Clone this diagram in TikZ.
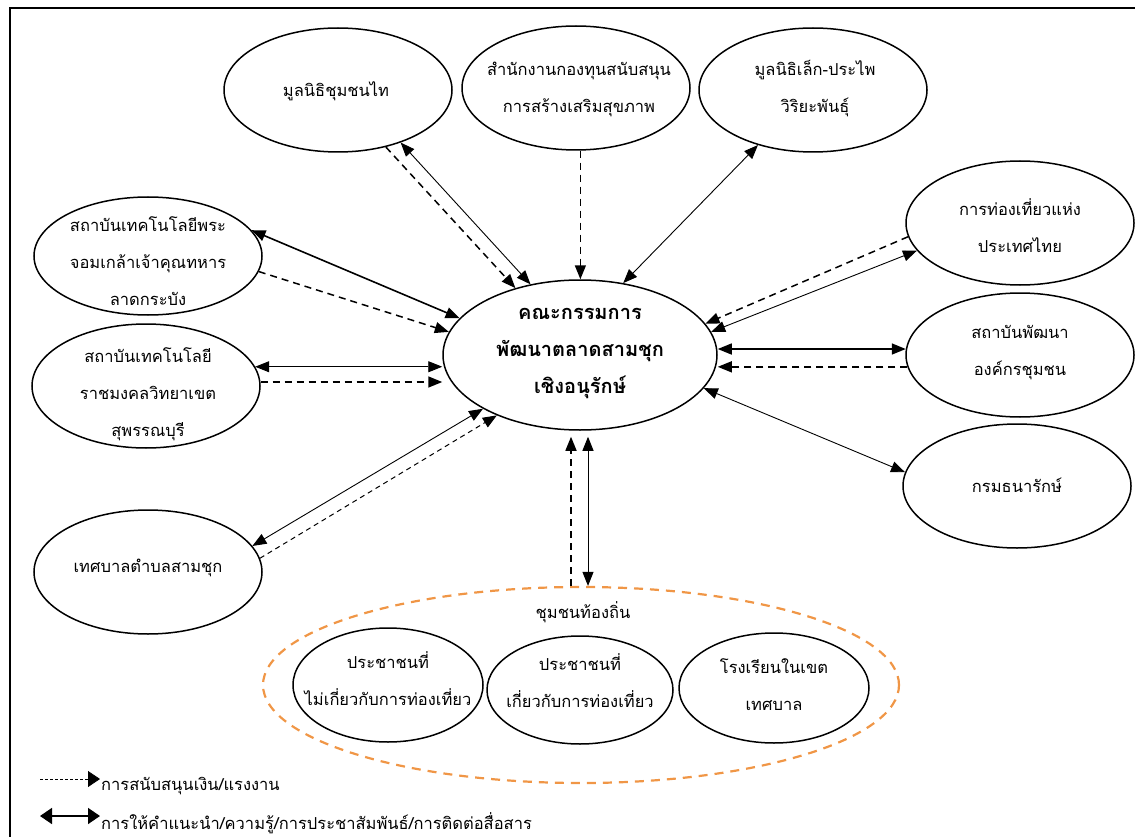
\documentclass[tikz,border=0pt]{standalone}
\usepackage{fontspec}
\newfontfamily\thaifont[Script=Thai]{Loma}
\usetikzlibrary{arrows.meta,shapes.geometric}
\definecolor{commorange}{RGB}{240,150,70}
\tikzset{
	>={Triangle[length=14pt,width=11pt]},
	bubble/.style={draw, ellipse, line width=1.5pt, minimum width=228pt, minimum height=124pt, inner sep=0pt},
	lbl/.style={font=\thaifont\fontsize{16.5}{37}\selectfont, align=center, inner sep=0pt},
	adv/.style={<->, line width=0.9pt},
	advbold/.style={<->, line width=1.6pt},
	fund/.style={->, line width=1.5pt, dash pattern=on 7pt off 5pt},
	fundthin/.style={->, line width=1pt, dash pattern=on 5pt off 4pt}
}

\begin{document}
\begin{tikzpicture}[x=1pt, y=-1pt]
		%%%%% START %%%%%
		\useasboundingbox (0,0) rectangle (1135,837);
		\draw[line width=1.3pt] (1135,8) -- (10,8) -- (10,837);
		
		\node[bubble, minimum width=274pt, minimum height=150pt] (board) at (580,355) {};
		\node[lbl, font=\thaifont\bfseries\fontsize{20}{37}\selectfont] (board-t) at (580,353) {คณะกรรมการ\\พัฒนาตลาดสามชุก\\เชิงอนุรักษ์};
		
		\node[bubble] (thaifund) at (338,90) {};
		\node[lbl] (thaifund-t) at (336,91) {มูลนิธิชุมชนไท};
		\node[bubble] (health) at (576,88) {};
		\node[lbl] (health-t) at (579,89) {สำนักงานกองทุนสนับสนุน\\การสร้างเสริมสุขภาพ};
		\node[bubble] (lekfund) at (813,90) {};
		\node[lbl] (lekfund-t) at (815,89) {มูลนิธิเล็ก-ประไพ\\วิริยะพันธุ์};
		
		\node[bubble, minimum height=118pt] (kmitl) at (148,256) {};
		\node[lbl] (kmitl-t) at (148,261) {สถาบันเทคโนโลยีพระ\\จอมเกล้าเจ้าคุณทหาร\\ลาดกระบัง};
		\node[bubble] (rmut) at (146,386) {};
		\node[lbl] (rmut-t) at (148,394) {สถาบันเทคโนโลยี\\ราชมงคลวิทยาเขต\\สุพรรณบุรี};
		\node[bubble] (town) at (148,572) {};
		\node[lbl] (town-t) at (148,568) {เทศบาลตำบลสามชุก};
		
		\node[bubble] (tat) at (1020,223) {};
		\node[lbl] (tat-t) at (1020,226) {การท่องเที่ยวแห่ง\\ประเทศไทย};
		\node[bubble] (codi) at (1020,355) {};
		\node[lbl] (codi-t) at (1020,353) {สถาบันพัฒนา\\องค์กรชุมชน};
		\node[bubble] (treasury) at (1017,486) {};
		\node[lbl] (treasury-t) at (1017,485) {กรมธนารักษ์};
		
		\node[draw=commorange, ellipse, line width=2.2pt, dash pattern=on 9pt off 7pt, minimum width=636pt, minimum height=196pt, inner sep=0pt] (comm) at (581,685) {};
		\node[lbl] (comm-t) at (583,612) {ชุมชนท้องถิ่น};
		\node[bubble, minimum width=190pt, minimum height=114pt] (folk) at (388,685) {};
		\node[lbl] (folk-t) at (388,679) {ประชาชนที่\\ไม่เกี่ยวกับการท่องเที่ยว};
		\node[bubble, minimum width=186pt, minimum height=108pt] (tourfolk) at (580,690) {};
		\node[lbl] (tourfolk-t) at (580,681) {ประชาชนที่\\เกี่ยวกับการท่องเที่ยว};
		\node[bubble, minimum width=190pt, minimum height=110pt] (school) at (774,688) {};
		\node[lbl] (school-t) at (774,685) {โรงเรียนในเขต\\เทศบาล};
		
		\draw[fund] (thaifund.-50) -- (board.134);
		\draw[adv] (thaifund.-40) -- (board.125);
		\draw[fund] (health.-86) -- (health.-86 |- board.north);
		\draw[adv] (lekfund.225) -- (board.59);
		
		\draw[advbold] (kmitl.14) -- (board.163);
		\draw[fund] (kmitl.-8) -- (board.170);
		\draw[adv] (rmut.10) -- (rmut.10 -| board.west);
		\draw[fund] (rmut.2) -- (rmut.2 -| board.west);
		\draw[adv] (town.14) -- (board.209);
		\draw[fundthin] (town.7) -- (board.216);
		
		\draw[fund] (tat.187) -- (board.14);
		\draw[adv] (tat.195) -- (board.10);
		\draw[advbold] (codi.177 -| board.east) -- (codi.177);
		\draw[fund] (codi.186) -- (codi.186 -| board.east);
		\draw[adv] (board.-15) -- (treasury.173);
		
		\draw[fund, shorten >=6pt] ([xshift=-10pt]comm.north) -- ([xshift=-10pt]comm.north |- board.south);
		\draw[adv, shorten <=6pt] ([xshift=7pt]comm.north |- board.south) -- ([xshift=7pt]comm.north);
		
		\coordinate (fund-a) at (40,779);
		\coordinate (fund-b) at (100,779);
		\draw[-{Triangle[length=12pt,width=16pt]}, line width=0.8pt, dash pattern=on 3pt off 2pt] (fund-a) -- (fund-b);
		\node[lbl, anchor=west] (fund-t) at (101,786) {การสนับสนุนเงิน/แรงงาน};
		\coordinate (adv-a) at (40,816);
		\coordinate (adv-b) at (100,816);
		\draw[{Triangle[length=12pt,width=16pt]}-{Triangle[length=12pt,width=16pt]}, line width=1.6pt] (adv-a) -- (adv-b);
		\node[lbl, anchor=west] (adv-t) at (101,823) {การให้คำแนะนำ/ความรู้/การประชาสัมพันธ์/การติดต่อสื่อสาร};
		%%%%% END %%%%%
\end{tikzpicture}
\end{document}
